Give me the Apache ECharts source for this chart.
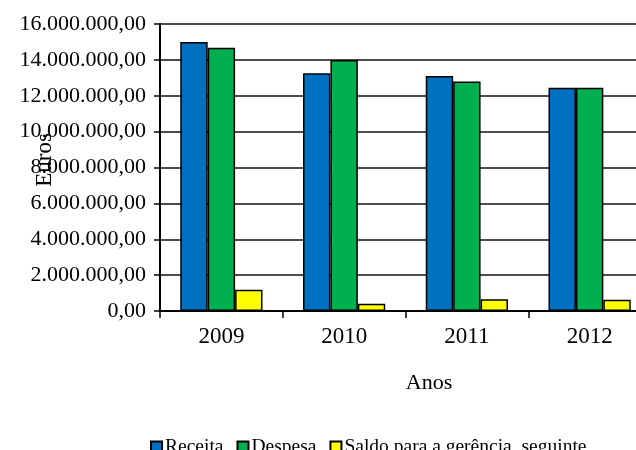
<!DOCTYPE html>
<html>
<head>
<meta charset="utf-8">
<script src="https://cdn.jsdelivr.net/npm/echarts@6/dist/echarts.min.js"></script>
<style>
    html, body { margin: 0; padding: 0; background: #fff; }
    #chart { width: 636px; height: 450px; }
</style>
</head>
<body>
<div id="chart"></div>
<script>
// dados
const anos = ['2009', '2010', '2011', '2012'];
const receita = [15000000, 13250000, 13100000, 12450000];
const despesa = [14680000, 14000000, 12800000, 12450000];
const saldo = [1190000, 410000, 650000, 630000];

const serif = 'Liberation Serif';

const fmt = (v) => Math.round(v).toString().replace(/\B(?=(\d{3})+(?!\d))/g, '.') + ',00';

var chart = echarts.init(document.getElementById('chart'));

const barStyle = (color) => ({ color: color, borderColor: '#000', borderWidth: 1.5 });

chart.setOption({
    animation: false,
    textStyle: { fontFamily: serif, color: '#000' },
    grid: { left: 160, right: -15, top: 24, bottom: 139, outerBoundsMode: 'none', containLabel: false },
    legend: {
        left: 145,
        top: 432,
        itemWidth: 11,
        itemHeight: 11,
        itemGap: 13,
        icon: 'rect',
        textStyle: { fontFamily: serif, fontSize: 19.5, color: '#000', padding: [0, 0, 0, -2] },
        data: ['Receita', 'Despesa', 'Saldo para a gerência  seguinte']
    },
    xAxis: {
        type: 'category',
        data: anos,
        name: 'Anos',
        nameLocation: 'middle',
        nameGap: 61,
        nameMoveOverlap: false,
        nameTextStyle: { fontFamily: serif, fontSize: 22, color: '#000', padding: [0, 0, 0, 47] },
        axisLine: { lineStyle: { color: '#000', width: 2 } },
        axisTick: { show: true, length: 7, lineStyle: { color: '#000', width: 1.5 } },
        axisLabel: { fontFamily: serif, fontSize: 23, color: '#000', margin: 14 }
    },
    yAxis: {
        type: 'value',
        min: 0,
        max: 16000000,
        interval: 2000000,
        name: 'Euros',
        nameLocation: 'middle',
        nameGap: 104,
        nameMoveOverlap: false,
        nameTextStyle: { fontFamily: serif, fontSize: 23, color: '#000', padding: [0, 0, 0, 15] },
        axisLine: { show: true, lineStyle: { color: '#000', width: 2 } },
        axisTick: { show: true, length: 6, lineStyle: { color: '#000', width: 1.5 } },
        axisLabel: { fontFamily: serif, fontSize: 22, color: '#000', margin: 14, formatter: fmt },
        splitLine: { lineStyle: { color: '#111', width: 1.5 } }
    },
    series: [
        {
            name: 'Receita',
            type: 'bar',
            data: receita,
            barGap: '0%',
            barCategoryGap: '33%',
            itemStyle: barStyle('#0070C0')
        },
        {
            name: 'Despesa',
            type: 'bar',
            data: despesa,
            itemStyle: barStyle('#00B050')
        },
        {
            name: 'Saldo para a gerência  seguinte',
            type: 'bar',
            data: saldo,
            itemStyle: barStyle('#FFFF00')
        }
    ]
});
</script>
</body>
</html>
